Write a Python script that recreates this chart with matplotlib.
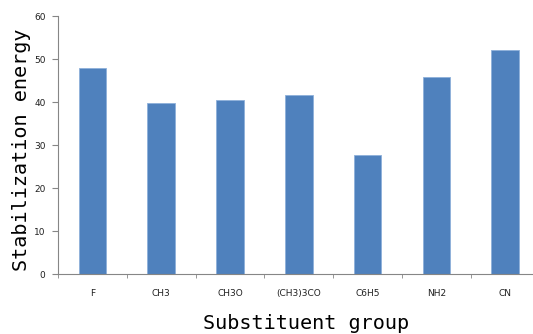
import numpy as np
from matplotlib import pyplot as plt

groups = ['F', 'CH3', 'CH3O', '(CH3)3CO', 'C6H5', 'NH2', 'CN']
energy = [47.9, 39.7, 40.5, 41.6, 27.7, 45.8, 52.1]

fig = plt.figure(figsize=(5.33, 3.34), dpi=100)
ax = fig.add_axes([0.1088, 0.1796, 0.9036, 0.7724])

x = np.arange(len(groups))
ax.bar(x, energy, width=0.4, color='#4F81BD', edgecolor='#8EB0DA', linewidth=0.6)

ax.set_xlim(-0.5, len(groups) - 0.5)
ax.set_ylim(0, 60)
ax.set_yticks(range(0, 61, 10))
ax.set_xticks(x)
ax.set_xticklabels(groups)
ax.set_xticks(np.arange(len(groups) + 1) - 0.5, minor=True)

for s in ['top', 'right']:
    ax.spines[s].set_visible(False)
for s in ['left', 'bottom']:
    ax.spines[s].set_color('#868686')
    ax.spines[s].set_linewidth(0.8)

ax.tick_params(axis='x', which='major', length=0, pad=11, labelsize=6.5, labelcolor='#202020')
ax.tick_params(axis='x', which='minor', length=3, color='#868686', direction='out')
ax.tick_params(axis='y', length=4, color='#868686', pad=5, labelsize=6.5, labelcolor='#202020')

ax.set_ylabel('Stabilization energy', family='DejaVu Sans Mono', fontsize=14.5)
ax.yaxis.set_label_coords(-0.056, 0.48)
ax.set_xlabel('Substituent group', family='DejaVu Sans Mono', fontsize=14.5)
ax.xaxis.set_label_coords(0.515, -0.155)

fig.savefig('out.png', dpi=100)
